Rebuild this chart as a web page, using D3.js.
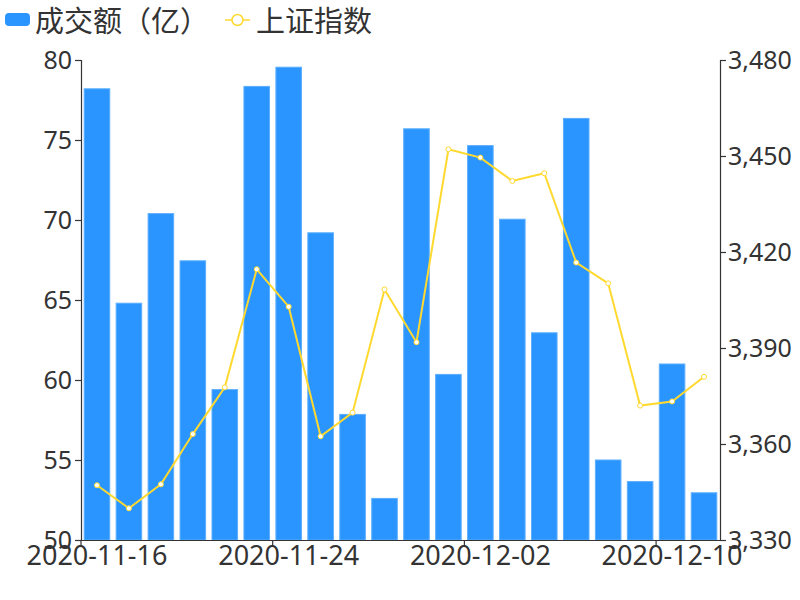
<!DOCTYPE html>
<html><head><meta charset="utf-8">
<script src="https://cdn.jsdelivr.net/npm/d3@7"></script>
<style>
body{margin:0;background:#fff}
text{font-family:"Noto Sans","Noto Sans CJK SC",sans-serif;fill:#333}
</style></head>
<body><svg id="c" width="800" height="600"></svg>
<script>
const dates = ["2020-11-16","2020-11-17","2020-11-18","2020-11-19","2020-11-20",
  "2020-11-23","2020-11-24","2020-11-25","2020-11-26","2020-11-27",
  "2020-11-30","2020-12-01","2020-12-02","2020-12-03","2020-12-04",
  "2020-12-07","2020-12-08","2020-12-09","2020-12-10","2020-12-11"];
const volume = [78.2,64.8,70.4,67.45,59.4,78.35,79.55,69.2,57.85,52.6,75.7,60.35,74.65,70.05,62.95,76.35,55.0,53.65,61.0,52.95];
const indexVals = [3347.1,3339.9,3347.4,3363.1,3377.7,3414.6,3402.9,3362.4,3369.8,3408.3,3391.8,3452.1,3449.5,3442.2,3444.6,3416.7,3410.2,3372.0,3373.3,3381.0];
const leftTicks = [50,55,60,65,70,75,80];
const rightTicks = [3330,3360,3390,3420,3450,3480];
const xTickLabels = ["2020-11-16","2020-11-24","2020-12-02","2020-12-10"];
const seriesNames = ["成交额（亿）","上证指数"];

const svg = d3.select("#c");
const L=81,R=720,T=60,B=540;
const x = d3.scaleBand().domain(dates).range([L,R]).paddingInner(0.2).paddingOuter(0.1);
const yL = d3.scaleLinear().domain([50,80]).range([B,T]);
const yR = d3.scaleLinear().domain([3330,3480]).range([B,T]);
const blue="#2b95ff", yellow="#ffd92f";

svg.append("g").selectAll("rect").data(volume).join("rect")
  .attr("x",(d,i)=>x(dates[i])).attr("width",x.bandwidth())
  .attr("y",d=>yL(d)).attr("height",d=>B-yL(d))
  .attr("fill",blue).attr("stroke","#5caeff").attr("stroke-width",1);

const line = d3.line().x((d,i)=>x(dates[i])+x.bandwidth()/2).y(d=>yR(d));
svg.append("path").datum(indexVals).attr("d",line).attr("fill","none")
  .attr("stroke",yellow).attr("stroke-width",2);
svg.append("g").selectAll("circle").data(indexVals).join("circle")
  .attr("cx",(d,i)=>x(dates[i])+x.bandwidth()/2).attr("cy",d=>yR(d)).attr("r",2.5)
  .attr("fill","#fff").attr("stroke",yellow).attr("stroke-width",1);

function styleAxis(g,fs){
  g.selectAll("path,line").attr("stroke","#333").attr("stroke-width",1.2);
  g.selectAll("text").style("font-size",fs+"px").attr("fill","#333");
}
const gl = svg.append("g").attr("transform",`translate(${L},0)`)
  .call(d3.axisLeft(yL).tickValues(leftTicks).tickSize(6).tickSizeOuter(6).tickPadding(3));
styleAxis(gl,25); gl.selectAll("text").attr("dy","0.35em");
const gr = svg.append("g").attr("transform",`translate(${R},0)`)
  .call(d3.axisRight(yR).tickValues(rightTicks).tickFormat(d3.format(",")).tickSize(6).tickSizeOuter(6).tickPadding(2));
styleAxis(gr,25);
const gx = svg.append("g").attr("transform",`translate(0,${B})`)
  .call(d3.axisBottom(x).tickValues(xTickLabels).tickSize(6).tickSizeOuter(0).tickPadding(0));
styleAxis(gx,27);
gx.select(".domain").attr("d",`M${L},0.5H${R}`);
const off = -(x.bandwidth()/2 + x.step()*0.1);
gx.selectAll(".tick line").attr("x1",off).attr("x2",off);

// legend
const lg = svg.append("g");
lg.append("rect").attr("x",5).attr("y",13).attr("width",25).attr("height",13).attr("rx",4).attr("fill",blue);
lg.append("text").attr("x",35).attr("y",21.5).attr("dy","0.35em").style("font-size","29px").text(seriesNames[0]);
lg.append("line").attr("x1",225).attr("x2",250).attr("y1",20).attr("y2",20).attr("stroke",yellow).attr("stroke-width",1.5);
lg.append("circle").attr("cx",237.5).attr("cy",20).attr("r",5.5).attr("fill","#fff").attr("stroke",yellow).attr("stroke-width",1.5);
lg.append("text").attr("x",256).attr("y",21.5).attr("dy","0.35em").style("font-size","29px").text(seriesNames[1]);
</script></body></html>
